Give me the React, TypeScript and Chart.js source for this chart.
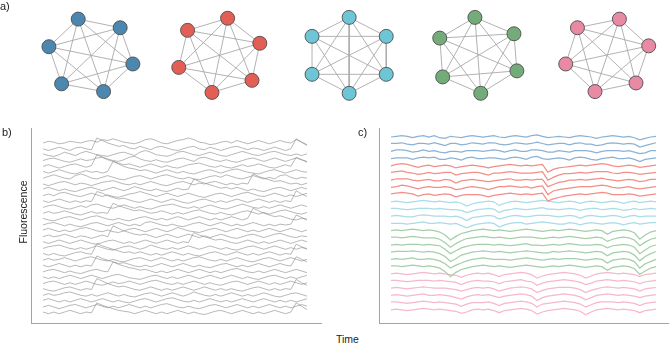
import { useEffect, useRef } from 'react';
import { Chart, registerables } from 'chart.js';
Chart.register(...registerables);

// ---------- panel a: ensembles as complete graphs ----------
const ensembleNames = ['blue', 'red', 'cyan', 'green', 'pink'];
const ensembleCenterX = [85, 217, 349.5, 481.3, 613.3];
const ensembleCenterY = 55;
const nodeColors = ['#4b87ae', '#e35f56', '#6ec5d5', '#74ac79', '#e98aa5'];
const traceColors = ['#8bb2d5', '#f28e88', '#a8dce7', '#a5cfa8', '#f6b8ca'];
const blueNodeX = [-13, 30, -43, 43, -30, 13];
const blueNodeY = [-42, -32, -10, 10, 33, 42];
const redNodeX = [8, -33, 41, -42, 33, -8];
const redNodeY = [-43, -29, -14, 14, 29, 43];
const cyanNodeX = [0, 38, 38, 0, -38, -38];
const cyanNodeY = [-44, -22, 22, 44, 22, -22];
const greenNodeX = [-3, 37, -39, 40, -36, 3];
const greenNodeY = [-44, -25, -20, 18, 25, 44];
const pinkNodeX = [13, -30, 43, -42, 30, -12];
const pinkNodeY = [-42, -32, -11, 10, 32, 42];
const edges = [[0,1],[0,2],[0,3],[0,4],[0,5],[1,2],[1,3],[1,4],[1,5],[2,3],[2,4],[2,5],[3,4],[3,5],[4,5]];

// ---------- panel b: raw fluorescence traces ----------
const grayTraces = [
  [0,2,1,-1,0,2,1,0,2,3,1,4,3,5,3,1,0,-1,1,4,5,3,0,-1,1,3,4,6,4,1,0,-2,-1,1,2,0,3,1,-1,1,3,1,-1,1,3,1,0,4,1,-2],
  [0,-2,0,2,0,-2,1,2,0,-1,13,10,7,5,3,4,1,0,3,1,-1,2,3,1,-1,-2,0,2,3,0,-1,2,0,-2,0,2,3,1,-1,1,0,-2,0,2,0,-2,0,12,8,4],
  [1,-1,-2,0,3,1,-1,2,4,2,0,-1,-2,0,2,3,1,-1,3,5,3,0,-1,-2,0,3,4,2,0,-1,1,3,1,-1,-2,0,2,4,2,0,-1,1,3,4,2,0,-1,1,-1,1],
  [0,2,3,1,-1,-2,0,2,0,1,3,4,2,0,-1,1,4,5,2,0,-1,1,-1,-2,0,2,3,1,-1,3,4,2,0,-1,1,-1,-2,0,2,3,1,-1,1,3,1,-1,1,3,1,-1],
  [0,2,0,-2,0,2,3,1,-1,1,14,11,8,6,4,2,3,1,-1,1,3,1,-1,1,-1,-2,0,2,3,4,2,0,-1,1,-1,-2,0,2,0,1,3,1,-1,-2,0,2,0,11,8,5],
  [1,-1,1,3,1,-1,-2,0,2,0,1,-1,1,13,10,7,5,4,2,3,1,-1,1,3,1,-1,1,-1,-2,0,2,3,1,-1,1,3,4,2,0,-1,-2,0,2,3,1,-1,1,3,1,0],
  [0,2,4,2,0,-1,3,5,3,0,-1,1,3,1,-1,-2,0,2,3,1,-1,1,3,4,2,0,-1,1,-1,-2,0,2,3,1,4,2,0,-1,1,3,1,-1,1,-1,3,4,1,-1,1,0],
  [0,-2,0,2,3,1,-1,1,0,-2,0,2,3,4,2,0,-1,1,-1,1,3,1,-1,-2,0,2,3,1,-1,1,0,2,3,1,-1,1,-1,1,0,12,9,7,5,3,4,2,0,1,-1,1],
  [1,3,1,-1,1,-1,-2,0,2,3,1,-1,1,3,1,-1,1,4,2,0,-1,1,-1,-2,0,2,0,1,13,10,8,6,4,2,3,1,3,1,-1,1,-1,-2,0,2,3,1,-1,1,3,1],
  [0,2,0,3,4,2,0,-1,1,3,1,-1,1,-1,-2,0,2,3,5,3,1,-1,1,3,1,-1,1,3,1,-1,-2,0,2,3,1,-1,1,3,4,2,0,-1,1,3,1,-1,1,-1,1,3],
  [1,-1,1,3,1,-1,1,-1,1,0,12,10,7,5,3,4,2,0,-1,1,3,1,-1,1,3,1,-1,-2,0,2,3,1,-1,1,-1,1,3,1,-1,1,3,1,-1,1,-1,1,0,13,9,6],
  [0,2,3,1,-1,-2,0,2,0,3,4,2,0,-1,1,3,1,-1,1,-1,-2,0,2,3,4,2,0,-1,1,-1,1,3,1,-1,-2,0,2,4,2,0,-1,1,-1,1,3,1,-1,1,3,1],
  [0,2,0,1,3,1,-1,-2,0,2,0,1,0,12,9,7,5,3,4,2,0,1,3,1,-1,1,-1,1,3,4,2,0,-1,1,-1,-2,0,2,3,1,-1,1,-1,1,3,4,2,0,-1,1],
  [1,-1,-2,0,2,3,1,-1,1,3,4,2,0,-1,1,-1,-2,0,2,3,1,-1,1,-1,1,3,1,-1,1,3,1,-1,1,-1,1,3,1,-1,1,13,10,7,5,3,4,2,0,-1,1,0],
  [0,2,3,1,-1,1,-1,-2,0,2,3,1,-1,1,3,1,-1,1,-1,3,4,2,0,-1,1,-1,-2,0,2,3,1,-1,1,3,1,-1,1,-1,1,3,1,-1,1,-1,1,0,1,12,9,6],
  [1,3,1,-1,1,-1,1,3,4,2,0,-1,1,-1,-2,0,2,3,1,-1,1,3,1,-1,1,4,2,0,-1,-2,0,2,3,1,-1,1,3,1,-1,1,-1,1,3,1,-1,1,3,1,-1,1],
  [0,2,0,1,3,1,-1,1,0,-2,0,2,0,13,10,7,5,3,2,3,1,-1,1,3,1,-1,1,3,1,-1,1,-1,1,3,1,-1,-2,0,2,3,1,-1,1,3,4,2,0,-1,1,0],
  [1,-1,1,3,1,-1,1,3,1,-1,-2,0,2,3,1,-1,1,-1,1,3,1,-1,1,3,1,-1,1,0,12,9,7,5,3,4,2,0,-1,1,3,1,-1,1,-1,1,3,1,-1,1,3,1],
  [0,2,3,4,2,0,-1,1,-1,1,3,1,-1,-2,0,2,3,1,-1,1,4,2,0,-1,1,-1,1,3,1,-1,1,3,1,-1,1,-1,-2,0,2,3,1,-1,1,3,1,-1,1,-1,1,0],
  [1,-1,1,-1,-2,0,2,3,1,0,13,10,8,6,4,2,3,1,3,1,-1,1,-1,1,3,1,-1,1,-1,-2,0,2,3,1,-1,1,3,1,-1,1,-1,1,3,1,-1,1,0,12,9,6],
  [0,2,0,1,3,1,-1,1,3,4,2,0,-1,1,-1,-2,0,2,3,1,-1,1,3,1,-1,1,-1,1,3,4,2,0,-1,1,-1,1,3,1,-1,-2,0,2,3,1,-1,1,3,1,-1,1],
  [1,-1,1,3,1,-1,1,-1,1,0,12,9,7,5,3,4,2,0,-1,1,-1,1,3,1,-1,1,3,1,-1,1,-1,-2,0,2,3,1,-1,1,-1,1,3,1,-1,1,3,1,0,11,8,5],
  [0,2,3,1,-1,1,-1,-2,0,2,3,1,0,12,9,7,5,4,2,3,1,-1,1,-1,1,3,1,-1,1,3,1,-1,1,-1,1,3,4,2,0,-1,1,-1,1,3,1,-1,1,3,1,-1],
  [1,-1,1,-1,1,3,1,-1,1,3,1,-1,1,3,4,2,0,-1,-2,0,2,3,1,-1,1,-1,1,3,1,-1,1,3,1,-1,1,3,1,-1,1,-1,-2,0,2,3,1,-1,1,-1,1,3],
  [0,2,3,1,-1,1,-1,1,3,1,-1,-2,0,2,0,1,3,1,-1,1,3,4,2,0,-1,1,-1,1,3,1,-1,1,-1,-2,0,2,3,1,-1,1,3,1,-1,1,-1,1,3,1,-1,1],
  [1,-1,-2,0,2,3,1,-1,1,0,13,10,7,5,3,4,2,0,-1,1,3,1,-1,1,-1,1,3,1,-1,1,3,1,-1,1,-1,1,-1,-2,0,2,3,1,-1,1,-1,1,0,12,8,5],
  [0,2,0,1,3,4,2,0,-1,1,-1,1,3,1,-1,1,-1,-2,0,2,3,1,-1,1,3,1,-1,1,4,2,0,-1,1,-1,1,3,1,-1,1,-1,1,3,1,-1,-2,0,2,3,1,-1],
  [1,3,1,-1,1,-1,1,3,1,-1,1,3,1,-1,1,-1,-2,0,2,3,1,-1,1,3,4,2,0,-1,1,-1,1,3,1,-1,1,-1,1,3,1,-1,1,3,1,-1,1,-1,1,-1,1,3],
  [0,2,0,-2,0,2,3,1,-1,1,3,1,-1,1,-1,1,3,1,-1,1,-1,1,3,4,2,0,-1,1,-1,-2,0,2,3,1,-1,1,3,1,-1,1,-1,1,3,1,-1,1,-1,1,3,1],
  [1,-1,1,-1,1,3,1,-1,1,0,12,9,7,5,3,2,1,-1,1,3,1,-1,1,-1,1,3,1,-1,1,-1,-2,0,2,3,1,-1,1,3,1,-1,1,-1,1,3,1,-1,1,12,8,4],
];

// ---------- panel c: traces sorted by ensemble ----------
const blueTraces = [
  [0,1,2,1,-1,1,2,0,2,-1,-2,1,0,-1,1,2,1,0,1,2,0,-1,1,2,1,0,2,3,1,-1,0,1,0,-1,1,2,1,0,-2,0,1,2,1,0,1,-1,-4,-2,0,1],
  [1,1,2,0,-1,1,1,0,2,0,-2,1,1,-1,0,2,1,0,2,2,0,-1,0,2,1,0,1,3,1,-1,0,1,1,-1,1,2,0,0,-2,-1,1,2,1,0,1,0,-4,-2,0,2],
  [0,2,2,1,-1,0,2,0,1,-1,-2,0,0,-1,1,1,1,0,1,2,1,-1,1,2,0,0,2,2,1,-1,-1,1,0,-1,1,1,1,0,-2,0,1,1,1,0,1,-1,-3,-2,1,1],
  [0,1,1,1,-1,1,2,1,2,-1,-1,1,0,-2,1,2,0,0,1,1,0,-1,1,2,1,-1,2,3,0,-1,0,1,0,-2,1,2,1,-1,-2,0,1,2,0,0,1,-1,-4,-1,0,1],
];
const redTraces = [
  [0,2,3,2,0,-2,0,1,-1,0,1,0,-3,-1,0,1,0,-1,-3,-1,0,1,2,1,0,1,0,1,2,-9,-5,-3,-2,-1,0,1,0,1,2,3,2,0,-1,0,1,0,-2,-1,0,1],
  [1,2,3,1,0,-2,-1,1,-1,0,1,1,-3,-1,0,1,1,-1,-3,0,0,1,2,1,0,0,0,1,2,-10,-6,-3,-1,-1,0,1,0,1,2,2,2,0,-1,1,1,0,-2,-1,0,1],
  [0,2,2,2,0,-1,0,1,-1,-1,1,0,-4,-1,0,1,0,-1,-2,-1,0,1,2,0,0,1,0,1,1,-9,-6,-3,-2,0,0,1,0,1,2,3,1,0,-1,0,1,0,-2,-1,1,1],
  [0,1,3,2,0,-2,0,1,0,0,1,0,-3,-2,0,1,0,-1,-3,-1,1,1,2,1,0,1,-1,1,2,-10,-5,-3,-2,-1,0,1,1,1,2,3,2,0,-1,0,1,-1,-2,-1,0,1],
  [1,2,3,2,1,-2,0,1,-1,0,1,0,-3,-1,0,0,0,-1,-3,-1,0,1,2,1,0,1,0,1,2,-9,-6,-4,-2,-1,0,1,0,1,2,3,2,0,0,0,1,0,-2,-1,0,1],
];
const cyanTraces = [
  [0,1,0,-1,0,1,2,1,0,1,0,-1,0,-2,-6,-3,-1,0,1,0,-5,-2,0,1,0,-1,0,1,2,1,0,-1,0,1,0,-2,0,1,0,-1,0,1,0,-2,0,1,-1,0,1,0],
  [1,1,0,-1,0,1,1,1,0,1,0,-1,-1,-2,-5,-3,-1,0,1,0,-5,-2,-1,1,0,-1,0,1,2,0,0,-1,0,1,0,-2,0,1,1,-1,0,1,0,-2,-1,1,-1,0,1,0],
  [0,1,0,-1,-1,1,2,1,0,0,0,-1,0,-2,-6,-2,-1,0,1,0,-4,-2,0,1,0,-1,0,1,1,1,0,-1,0,1,0,-3,0,1,0,-1,0,1,0,-2,0,1,-1,0,0,0],
  [0,0,0,-1,0,1,2,0,0,1,0,-1,0,-3,-6,-3,-1,0,1,0,-5,-2,0,1,1,-1,0,1,2,1,0,-1,-1,1,0,-2,0,1,0,-1,0,1,0,-2,0,1,-1,0,1,1],
];
const greenTraces = [
  [0,1,0,1,2,1,0,1,0,-2,-6,-13,-8,-4,-2,0,1,2,1,0,1,0,-1,0,1,2,1,0,-1,0,1,0,1,2,1,0,-1,0,1,0,-5,-1,0,1,0,-3,-12,-6,-2,0],
  [1,1,0,1,2,1,0,0,0,-2,-7,-13,-8,-4,-1,0,1,2,1,0,1,0,-1,0,1,1,1,0,-1,0,1,0,1,2,1,0,-1,0,1,0,-5,-2,0,1,0,-3,-11,-6,-2,0],
  [0,1,0,1,1,1,0,1,0,-1,-6,-12,-8,-4,-2,0,1,1,1,0,1,0,-1,0,1,2,0,0,-1,0,1,0,1,2,1,0,0,0,1,0,-4,-1,0,1,0,-3,-12,-7,-2,0],
  [0,1,1,1,2,1,0,1,0,-2,-6,-13,-9,-4,-2,0,1,2,1,0,1,0,-1,0,1,2,1,0,-1,-1,1,0,1,2,1,0,-1,0,1,0,-5,-1,0,1,0,-4,-12,-6,-2,1],
  [0,1,0,1,2,0,0,1,0,-2,-6,-12,-8,-5,-2,0,1,2,1,0,0,0,-1,0,1,2,1,0,-1,0,1,0,1,1,1,0,-1,0,1,0,-5,-1,0,1,0,-3,-12,-6,-3,0],
  [1,1,0,1,2,1,0,1,0,-2,-7,-14,-8,-4,-2,0,1,2,1,0,1,0,-1,0,1,2,1,0,-1,0,1,0,1,2,1,0,-1,0,1,0,-5,-1,0,1,0,-3,-11,-6,-2,0],
];
const pinkTraces = [
  [0,1,0,-1,0,1,2,1,0,1,0,-1,-2,-5,-2,0,1,0,1,-1,-4,-1,0,1,2,1,-1,-6,-3,-1,0,1,2,1,0,-2,-6,-3,0,1,2,1,0,1,0,-1,-4,-1,0,1],
  [1,1,0,-1,0,1,1,1,0,1,0,-1,-2,-5,-2,0,1,0,0,-1,-4,-1,0,1,2,0,-1,-6,-3,-1,0,1,2,1,0,-2,-5,-3,0,1,2,1,0,1,0,-1,-4,-1,0,1],
  [0,1,0,-1,0,1,2,1,0,0,0,-1,-2,-4,-2,0,1,0,1,-1,-4,-2,0,1,2,1,-1,-6,-3,-1,0,1,1,1,0,-2,-6,-3,-1,1,2,1,0,1,0,-1,-4,-1,0,1],
  [0,1,0,-1,0,1,2,0,0,1,0,-1,-3,-5,-2,0,1,0,1,-1,-3,-1,0,1,2,1,-1,-7,-3,-1,0,1,2,1,0,-2,-6,-3,0,1,2,1,0,1,0,-1,-3,-1,0,1],
  [1,1,0,-1,0,1,2,1,0,1,0,-1,-2,-5,-2,0,0,0,1,-1,-4,-1,0,1,2,1,-1,-6,-2,-1,0,1,2,1,0,-2,-6,-3,0,1,1,1,0,1,0,-1,-4,-1,0,1],
  [0,1,0,-1,0,1,2,1,0,1,0,-1,-2,-5,-3,0,1,0,1,-1,-4,-1,0,1,2,1,-1,-6,-3,-1,0,1,2,1,0,-2,-7,-3,0,1,2,1,0,1,0,-1,-4,-1,0,1],
];

const FONT = '"Liberation Sans", Arial, Helvetica, sans-serif';
const AXIS = '#a3a3a3';

function axisScales(xMin: number, xMax: number, yMin: number, yMax: number) {
  return {
    x: {
      type: 'linear' as const, min: xMin, max: xMax, display: true,
      grid: { display: false }, ticks: { display: false },
      border: { display: true, color: AXIS, width: 1 },
      afterFit: (s: any) => { s.height = 0; },
    },
    y: {
      type: 'linear' as const, min: yMin, max: yMax, display: true,
      grid: { display: false }, ticks: { display: false },
      border: { display: true, color: AXIS, width: 1 },
      afterFit: (s: any) => { s.width = 0; },
    },
  };
}

const baseOpts = {
  animation: false as const,
  responsive: false,
  events: [] as any[],
  plugins: { legend: { display: false }, tooltip: { enabled: false } },
};

export default function App() {
  const netRef = useRef<HTMLCanvasElement>(null);
  const bRef = useRef<HTMLCanvasElement>(null);
  const cRef = useRef<HTMLCanvasElement>(null);

  useEffect(() => {
    const charts: Chart[] = [];
    const nodeX = [blueNodeX, redNodeX, cyanNodeX, greenNodeX, pinkNodeX];
    const nodeY = [blueNodeY, redNodeY, cyanNodeY, greenNodeY, pinkNodeY];

    // network panel
    const netSets: any[] = [];
    ensembleNames.forEach((name, g) => {
      const pts = nodeX[g].map((dx, j) => ({ x: ensembleCenterX[g] + dx, y: ensembleCenterY + nodeY[g][j] }));
      netSets.push({
        label: name, data: pts, showLine: false, pointRadius: 7, pointHoverRadius: 7,
        pointBackgroundColor: nodeColors[g], pointBorderColor: '#4d4d4d', pointBorderWidth: 0.9,
        order: 0, clip: false,
      });
      edges.forEach(([a, b]) => {
        netSets.push({
          label: name + '-edge', data: [pts[a], pts[b]], showLine: true, borderColor: '#a9a9a9',
          borderWidth: 0.9, pointRadius: 0, order: 1, clip: false,
        });
      });
    });
    charts.push(new Chart(netRef.current!, {
      type: 'scatter',
      data: { datasets: netSets },
      options: {
        ...baseOpts,
        layout: { padding: 0 },
        scales: {
          x: { type: 'linear', min: 0, max: 669, display: false },
          y: { type: 'linear', min: 0, max: 115, reverse: true, display: false },
        },
      } as any,
    }));

    // panel b
    const stepB = 7;
    const bSets = grayTraces.map((tr, k) => ({
      data: tr.map((v, i) => ({ x: i, y: v - k * stepB })),
      showLine: true, borderColor: 'rgba(135,135,135,0.7)', borderWidth: 0.85,
      pointRadius: 0, tension: 0,
    }));
    charts.push(new Chart(bRef.current!, {
      type: 'scatter',
      data: { datasets: bSets },
      options: {
        ...baseOpts,
        layout: { padding: { left: 10, top: 10, right: 10, bottom: 10 } },
        scales: axisScales(-2.227, 51.6, -215.1, 17.9),
      } as any,
    }));

    // panel c
    const stepC = 10;
    const groups = [blueTraces, redTraces, cyanTraces, greenTraces, pinkTraces];
    const cSets: any[] = [];
    let k = 0;
    groups.forEach((grp, g) => {
      grp.forEach((tr) => {
        const kk = k;
        cSets.push({
          data: tr.map((v, i) => ({ x: i, y: v - kk * stepC })),
          showLine: true, borderColor: traceColors[g], borderWidth: 1.25,
          pointRadius: 0, tension: 0,
        });
        k++;
      });
    });
    charts.push(new Chart(cRef.current!, {
      type: 'scatter',
      data: { datasets: cSets },
      options: {
        ...baseOpts,
        layout: { padding: { left: 10, top: 10, right: 0, bottom: 10 } },
        scales: axisScales(-2.219, 51.4, -258.3, 12.5),
      } as any,
    }));

    return () => { charts.forEach((c) => c.destroy()); };
  }, []);

  const label = (text: string, left: number, top: number, size = 10.5): any => (
    <div style={{ position: 'absolute', left, top, fontFamily: FONT, fontSize: size, color: '#222', whiteSpace: 'nowrap', lineHeight: 'normal' }}>{text}</div>
  );

  return (
    <div style={{ position: 'absolute', left: 0, top: 0, width: 669, height: 343, background: '#fff', overflow: 'hidden' }}>
      <canvas ref={netRef} width={669} height={115} style={{ position: 'absolute', left: 0, top: 0 }} />
      <canvas ref={bRef} width={310} height={215} style={{ position: 'absolute', left: 21, top: 118 }} />
      <canvas ref={cRef} width={300} height={215} style={{ position: 'absolute', left: 369, top: 118 }} />
      {label('a)', 0, 0, 11)}
      {label('b)', 2, 126, 11)}
      {label('c)', 358, 126, 11)}
      {label('Time', 336, 333, 10.5)}
      <div style={{ position: 'absolute', left: 22.5, top: 212, transform: 'translate(-50%, -50%) rotate(-90deg)', fontFamily: FONT, fontSize: 10.5, color: '#222', whiteSpace: 'nowrap' }}>Fluorescence</div>
    </div>
  );
}
